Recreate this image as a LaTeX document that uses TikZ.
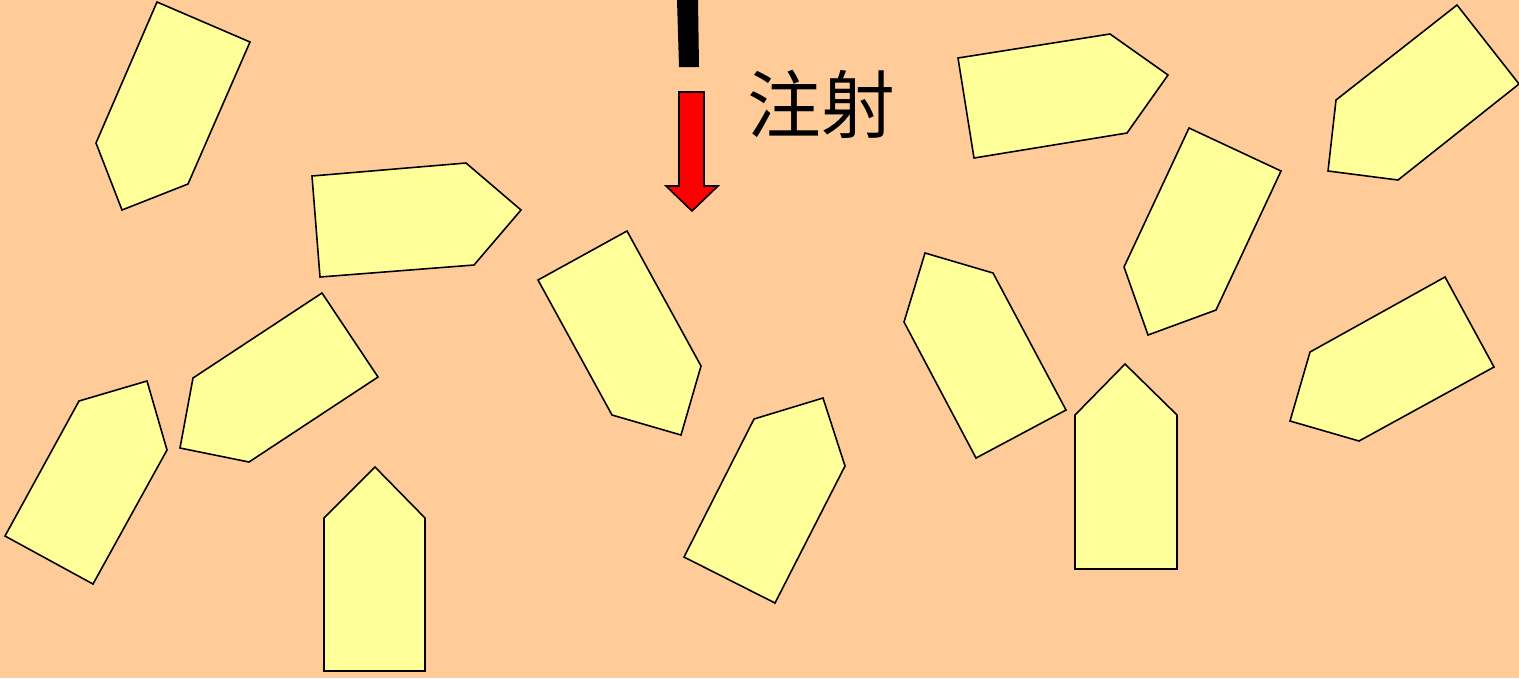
\documentclass[tikz,border=0pt]{standalone}
\usepackage{fontspec}
\newfontfamily\cjk{Noto Sans CJK SC}
\definecolor{fond}{RGB}{255,204,153}
\definecolor{cristal}{RGB}{255,255,153}
\tikzset{
  cristal/.style={draw=black, line width=0.45pt, fill=cristal, line join=miter},
  aiguille/.style={fill=black},
  fleche/.style={draw=black, line width=0.45pt, fill=red}
}
\begin{document}
\begin{tikzpicture}[x=0.01cm, y=-0.01cm]
    % Fond
    \fill[fond] (0,0) rectangle (1519,678);
    \useasboundingbox (0,0) rectangle (1519,678);

    % Aiguille
    \fill[aiguille] (677,0) -- (698,0) -- (699,67) -- (679,67) -- cycle;

    % Flèche d'injection
    \coordinate (P) at (692,211);
    \draw[fleche] (679,92) -- (704,92) -- (704,186) -- (718,186) -- (P)
        -- (666,186) -- (679,186) -- cycle;
    \node[font=\cjk\fontsize{21}{21}\selectfont, inner sep=0pt] (inj) at (821,104) {注射};

    % Cristaux à gauche
    \draw[cristal] (157,2) -- (250,42) -- (188,184) -- (122,210) -- (96,143) -- cycle;
    \draw[cristal] (312,176) -- (466,163) -- (521,210) -- (474,265) -- (320,277) -- cycle;
    \draw[cristal] (322,293) -- (378,377) -- (249,462) -- (180,448) -- (193,378) -- cycle;
    \draw[cristal] (79,401) -- (147,381) -- (167,450) -- (93,584) -- (5,536) -- cycle;
    \draw[cristal] (375,467) -- (425,518) -- (425,671) -- (324,671) -- (324,518) -- cycle;

    % Cristaux au centre
    \draw[cristal] (538,280) -- (627,231) -- (701,366) -- (681,435) -- (612,415) -- cycle;
    \draw[cristal] (754,419) -- (823,398) -- (845,466) -- (775,603) -- (684,557) -- cycle;
    \draw[cristal] (925,253) -- (993,273) -- (1066,410) -- (976,458) -- (904,322) -- cycle;

    % Cristaux à droite
    \draw[cristal] (958,58) -- (1110,34) -- (1168,75) -- (1127,133) -- (974,158) -- cycle;
    \draw[cristal] (1189,128) -- (1281,171) -- (1216,310) -- (1148,335) -- (1124,267) -- cycle;
    \draw[cristal] (1125,364) -- (1177,415) -- (1177,569) -- (1075,569) -- (1075,415) -- cycle;
    \draw[cristal] (1457,5) -- (1519,84) -- (1398,180) -- (1328,171) -- (1336,100) -- cycle;
    \draw[cristal] (1310,352) -- (1445,277) -- (1494,367) -- (1359,441) -- (1290,421) -- cycle;
\end{tikzpicture}
\end{document}
